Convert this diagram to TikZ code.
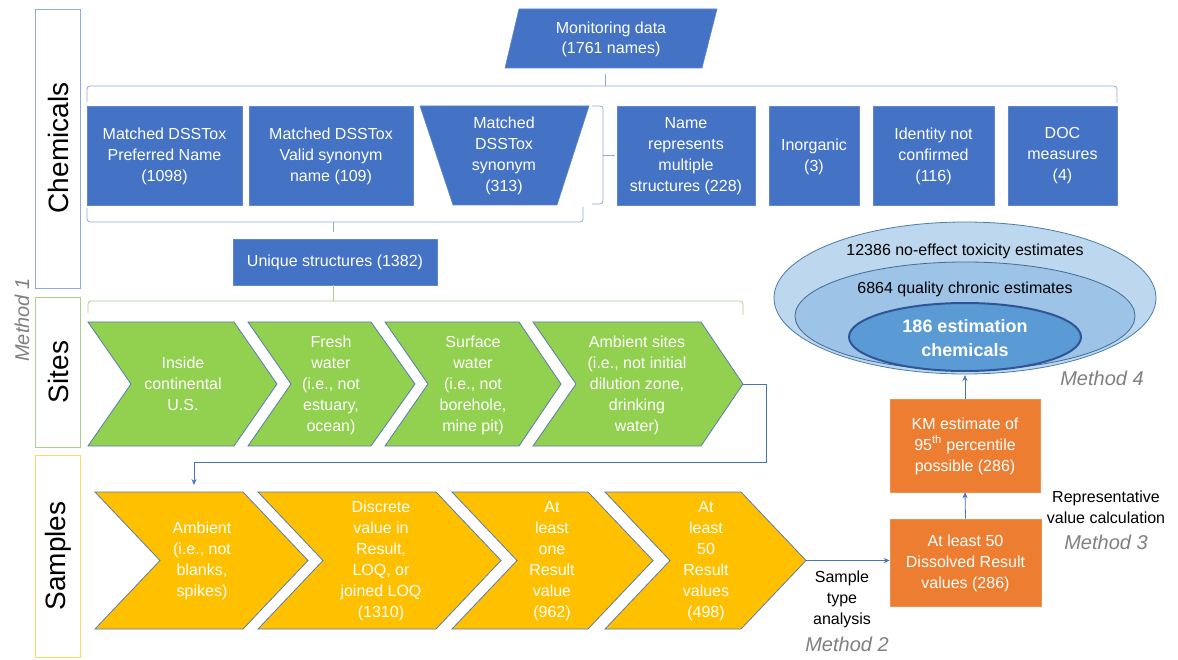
\documentclass[tikz,border=0pt]{standalone}
\usepackage{fontspec}
\setmainfont{Liberation Sans}
\usetikzlibrary{arrows.meta}
\definecolor{cblue}{HTML}{4472C4}
\definecolor{cblueline}{HTML}{8FAADC}
\definecolor{cgreen}{HTML}{92D050}
\definecolor{cgreenline}{HTML}{A9D18E}
\definecolor{cyellow}{HTML}{FFC000}
\definecolor{cyellowline}{HTML}{FFD966}
\definecolor{corange}{HTML}{ED7D31}
\definecolor{cedge}{HTML}{5A7BB0}
\definecolor{cgray}{HTML}{808080}
\definecolor{ell1}{HTML}{BDD7EE}
\definecolor{ell2}{HTML}{9DC3E6}
\definecolor{ell3}{HTML}{5B9BD5}
\definecolor{ellb}{HTML}{2F5597}
\newcommand\myfont{\fontsize{16}{21}\selectfont}
\tikzset{
  lbl/.style={font=\myfont, align=center, text=white, inner sep=0pt},
  blk/.style={font=\myfont, align=center, text=black, inner sep=0pt},
  meth/.style={font=\fontsize{20}{24}\selectfont\itshape, text=cgray, inner sep=0pt},
  side/.style={font=\fontsize{28}{32}\selectfont, inner sep=0pt, rotate=90},
  bbox/.style={fill=cblue, draw=cblue!85!white, line width=0.6pt},
  obox/.style={fill=corange, draw=corange!85!white, line width=0.6pt},
  chevg/.style={fill=cgreen, draw=cedge, line width=0.8pt},
  chevy/.style={fill=cyellow, draw=cedge, line width=0.8pt},
  brblue/.style={draw=cblueline, line width=0.8pt, rounded corners=3pt},
  brgreen/.style={draw=cgreenline, line width=0.8pt, rounded corners=3pt},
  conn/.style={draw=cblue, line width=0.8pt, -{Stealth[length=6pt,width=5pt]}},
}
\newcommand\mychev[7]{% left, right top, tip, top, bottom, depth, style
  \path[#7] (#1,#4) -- (#2,#4) -- (#3,{(#4+#5)/2}) -- (#2,#5) -- (#1,#5) -- ({#1+#6},{(#4+#5)/2}) -- cycle;}
\begin{document}
\begin{tikzpicture}[x=1pt,y=-1pt]
\useasboundingbox (0,0) rectangle (1178,660);
\fill[white] (0,0) rectangle (1178,660);

% side label boxes
\draw[cblueline, line width=0.9pt] (35,9) rectangle (80,288);
\node[side] (chemlbl) at (58,148) {Chemicals};
\draw[cgreenline, line width=0.9pt] (35,297) rectangle (80,447);
\node[side] (siteslbl) at (58,372) {Sites};
\draw[cyellowline, line width=0.9pt] (35,455) rectangle (80,657);
\node[side] (sampleslbl) at (58,556) {Samples};
\node[meth, rotate=90] (m1) at (22,320) {Method 1};

% monitoring data
\path[bbox] (519,9) -- (717,9) -- (702,68) -- (505,68) -- cycle;
\node[lbl, font=\fontsize{16}{20}\selectfont] (mon) at (611,39) {Monitoring data\\(1761 names)};

% top brace
\path[brblue] (87,102) -- (87,86) -- (1117,86) -- (1117,103);
\draw[cblueline, line width=0.8pt] (605,86) -- (605,74);

% row of boxes
\path[bbox] (87,106) rectangle (242,205);
\node[lbl] (b1) at (164.5,156) {Matched DSSTox\\Preferred Name\\(1098)};
\path[bbox] (249,106) rectangle (413,205);
\node[lbl] (b2) at (331,156) {Matched DSSTox\\Valid synonym\\name (109)};
\path[bbox] (420,106) -- (589,106) -- (557,205) -- (453,205) -- cycle;
\node[lbl] (b3) at (504,156) {Matched\\DSSTox\\synonym\\(313)};
\path[bbox] (617,106) rectangle (755,205);
\node[lbl] (b4) at (686,156) {Name\\represents\\multiple\\structures (228)};
\path[bbox] (769,106) rectangle (859,205);
\node[lbl] (b5) at (814,157) {Inorganic\\(3)};
\path[bbox] (873,106) rectangle (994,205);
\node[lbl] (b6) at (933.5,156) {Identity not\\confirmed\\(116)};
\path[bbox] (1008,106) rectangle (1117,205);
\node[lbl] (b7) at (1062.5,156) {DOC\\measures\\(4)};

% right bracket next to trapezoid
\path[brblue] (592,106) -- (603,106) -- (603,204) -- (592,204);
\draw[cblueline, line width=0.8pt] (603,155) -- (615,155);

% bottom brace
\path[brblue] (87,208) -- (87,222) -- (583,222) -- (583,207);
\draw[cblueline, line width=0.8pt] (333,222) -- (333,232);

% unique structures
\path[bbox] (233,239) rectangle (437,285);
\node[lbl] (uniq) at (335,262) {Unique structures (1382)};

% sites brace
\draw[cgreenline, line width=0.8pt] (333,285) -- (333,301);
\path[brgreen] (88,313) -- (88,301) -- (743,301) -- (743,315);

% green chevrons
\mychev{88}{234}{277}{322}{446}{43}{chevg}
\node[lbl] (g1) at (183,384) {Inside\\continental\\U.S.};
\mychev{248}{371}{415}{322}{446}{43}{chevg}
\node[lbl] (g2) at (331,385) {Fresh\\water\\(i.e., not\\estuary,\\ocean)};
\mychev{385}{519}{561}{322}{446}{43}{chevg}
\node[lbl] (g3) at (473,385) {Surface\\water\\(i.e., not\\borehole,\\mine pit)};
\mychev{533}{701}{743}{322}{446}{43}{chevg}
\node[lbl] (g4) at (637,385) {Ambient sites\\(i.e., not initial\\dilution zone,\\drinking\\water)};
\coordinate (g4tip) at (743,384);
\coordinate (y1top) at (194,485);

% connector sites -> samples
\draw[conn] (g4tip) -- (766,384) -- (766,462) -- (194,462) -- (y1top);

% yellow chevrons
\mychev{95}{243}{308}{492}{629}{65}{chevy}
\node[lbl] (y1) at (202,561) {Ambient\\(i.e., not\\blanks,\\spikes)};
\mychev{258}{436}{501}{492}{629}{65}{chevy}
\node[lbl] (y2) at (381,561) {Discrete\\value in\\Result,\\LOQ, or\\joined LOQ\\(1310)};
\mychev{452}{588}{653}{492}{629}{65}{chevy}
\node[lbl] (y3) at (552,561) {At\\least\\one\\Result\\value\\(962)};
\mychev{605}{741}{806}{492}{629}{65}{chevy}
\node[lbl] (y4) at (706,561) {At\\least\\50\\Result\\values\\(498)};
\coordinate (y4tip) at (806,560.5);

% orange boxes
\node[obox, minimum width=151pt, minimum height=87pt, inner sep=0pt] (o1) at (965.5,562.5) {};
\node[lbl] (o1t) at (965.5,563) {At least 50\\Dissolved Result\\values (286)};
\node[obox, minimum width=150pt, minimum height=93pt, inner sep=0pt] (o2) at (965,445.5) {};
\node[lbl] (o2t) at (965,446) {KM estimate of\\95\textsuperscript{th} percentile\\possible (286)};

% ellipses
\draw[fill=ell1, draw=ell3!80!black, line width=0.8pt] (965,298) ellipse [x radius=191, y radius=76];
\draw[fill=ell2, draw=ell3!70!black, line width=0.8pt] (965,316) ellipse [x radius=170, y radius=54];
\draw[fill=ell3, draw=ellb, line width=2pt] (965,337) ellipse [x radius=116, y radius=34];
\node[blk] (e1) at (965,251) {12386 no-effect toxicity estimates};
\node[blk] (e2) at (965,289) {6864 quality chronic estimates};
\node[lbl, font=\fontsize{18}{24}\selectfont\bfseries] (e3) at (965,338) {186 estimation\\chemicals};
\coordinate (ellbot) at (965,375);

% connectors
\draw[conn] (y4tip) -- (y4tip -| o1.west);
\draw[conn] (o1.north) -- (o2.south);
\draw[conn] (o2.north) -- (ellbot);

% annotations
\node[blk] (sta) at (842,599) {Sample\\type\\analysis};
\node[meth] (m2) at (847,644) {Method 2};
\node[blk] (rvc) at (1106,507) {Representative\\value calculation};
\node[meth] (m3) at (1106,542) {Method 3};
\node[meth] (m4) at (1102,378) {Method 4};
\end{tikzpicture}
\end{document}
